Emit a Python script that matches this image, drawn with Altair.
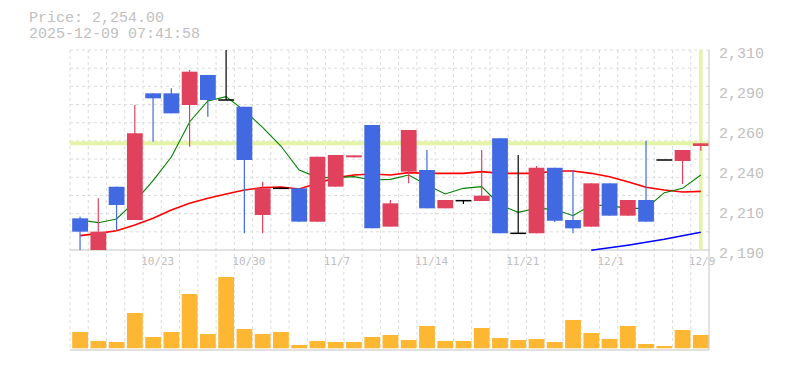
import altair as alt
import pandas as pd

# ---------------- data ----------------
dates = ["10/17", "10/20", "10/21", "10/22", "10/23", "10/24", "10/27", "10/28", "10/29", "10/30",
         "10/31", "11/4", "11/5", "11/6", "11/7", "11/10", "11/11", "11/12", "11/13", "11/14",
         "11/17", "11/18", "11/19", "11/20", "11/21", "11/25", "11/26", "11/27", "11/28", "12/1",
         "12/2", "12/3", "12/4", "12/8", "12/9"]
opens = [2209, 2190, 2228, 2208, 2284, 2284, 2277, 2295, 2280, 2276,
         2211, 2227, 2227, 2207, 2228, 2245.6, 2265, 2204, 2237, 2238,
         2215, 2219.6, 2219.4, 2257, 2200, 2200, 2239.4, 2208, 2204, 2230,
         2210.6, 2220, 2244, 2243.4, 2252.4]
highs = [2210, 2221, 2228, 2277, 2284, 2287, 2298, 2295, 2310, 2276,
         2231, 2227, 2227, 2246, 2247, 2246.8, 2265, 2220, 2262, 2250,
         2220, 2219.6, 2250, 2257, 2247, 2240.4, 2239.4, 2238, 2230, 2230,
         2220, 2255.6, 2244, 2250, 2254]
lows = [2190, 2190, 2202, 2208, 2255, 2272, 2252, 2270, 2280, 2200,
        2200, 2227, 2207, 2207, 2228, 2245.6, 2203, 2204, 2230, 2215,
        2215, 2217.6, 2219.4, 2200, 2200, 2200, 2206.8, 2200, 2204, 2210.6,
        2210.6, 2207, 2244, 2229.6, 2249.6]
closes = [2201, 2201, 2217, 2260, 2281, 2272, 2297, 2280, 2280, 2244,
          2227, 2227, 2207, 2246, 2247, 2246.8, 2203, 2218, 2262, 2215,
          2220, 2219.6, 2222.6, 2200, 2200, 2239.4, 2207.5, 2203, 2230, 2210.6,
          2220, 2207, 2244, 2250, 2254]
ma_short = [2208, 2206.4, 2208.6, 2219, 2231.6, 2245.8, 2266.8, 2279.4, 2282, 2273.6,
            2263.6, 2252.4, 2238, 2233.6, 2233.4, 2234, 2232, 2232.4, 2235, 2229,
            2223.6, 2227, 2228, 2217, 2212.6, 2215, 2214.4, 2210.6, 2217, 2216.6,
            2215, 2215, 2224.4, 2227, 2235]
ma_mid = [2198.6, 2200, 2201.6, 2205, 2209, 2214, 2218, 2221, 2223.6, 2226,
          2227.4, 2227.8, 2226.6, 2230, 2233.4, 2235, 2235.6, 2235, 2236.4, 2236,
          2236, 2236, 2237, 2236, 2236, 2236, 2237.4, 2237.4, 2236, 2234,
          2231, 2227.6, 2226, 2224.8, 2225.2]
ma_long = [None] * 28 + [2189.8, 2191.4, 2192.9, 2194.6, 2196.4, 2198.5, 2200.6]
volumes = [4900, 2200, 1900, 10600, 3400, 4900, 16300, 4300, 21400, 5800,
           4300, 4900, 1000, 2200, 1900, 1900, 3400, 4000, 2500, 6700,
           2200, 2200, 6100, 3100, 2500, 2800, 1900, 8500, 4600, 2800,
           6700, 1300, 700, 5500, 4000]
label_dates = ["10/23", "10/30", "11/7", "11/14", "11/21", "12/1", "12/9"]
price_ticks = [2310, 2286, 2262, 2238, 2214, 2190]
last_price = 2254.0
header_price = "Price: 2,254.00"
header_time = "2025-12-09 07:41:58"

df = pd.DataFrame({
    "i": list(range(len(dates))), "date": dates,
    "open": opens, "high": highs, "low": lows, "close": closes,
    "ma_s": ma_short, "ma_m": ma_mid, "ma_l": ma_long, "vol": volumes,
})

# ---------------- scales / styles ----------------
PMIN, PMAX = 2190, 2310
N = len(dates)
xs = alt.Scale(domain=[0, N], nice=False, zero=False)
ys = alt.Scale(domain=[PMIN, PMAX], range=[200, 0], nice=False, zero=False)
vs = alt.Scale(domain=[0, 30000], range=[298.3, 198.3], nice=False, zero=True)
GRID = "#dcdcdc"
BORDER = "#c4c4c4"
LABEL = "#c0c0c0"
color_scale = alt.Scale(domain=["up", "down", "flat"], range=["#e0425e", "#4169e1", "#000000"])

base = alt.Chart(df).transform_calculate(
    c="datum.i + 0.55", l="datum.i + 0.12", r="datum.i + 0.985", zero="0",
    dir="datum.close > datum.open ? 'up' : (datum.close < datum.open ? 'down' : 'flat')",
)
xc = alt.X("c:Q", scale=xs, axis=None)
dummy = pd.DataFrame({"a": [0]})

# ---------------- frame / grid ----------------
vgrid = alt.Chart(pd.DataFrame({"gx": list(range(N))})).mark_rule(
    color=GRID, strokeDash=[3, 3], strokeWidth=1
).encode(x=alt.X("gx:Q", scale=xs, axis=None))
bottom_line = alt.Chart(dummy).mark_rule(color=BORDER, strokeWidth=1).encode(
    y=alt.value(300), x=alt.value(0), x2=alt.value(639))
right_border = alt.Chart(dummy).mark_rule(color=BORDER, strokeWidth=1).encode(
    x=alt.value(639), y=alt.value(0), y2=alt.value(300))

# ---------------- price panel ----------------
grid_df = pd.DataFrame({"g": [PMIN + k * (PMAX - PMIN) / 11 for k in range(1, 12)]})
hgrid = alt.Chart(grid_df).mark_rule(color=GRID, strokeDash=[3, 3], strokeWidth=1).encode(
    y=alt.Y("g:Q", scale=ys, axis=None), x=alt.value(0), x2=alt.value(639)
)
price_bottom = alt.Chart(pd.DataFrame({"b": [PMIN]})).mark_rule(color=BORDER, strokeWidth=1).encode(
    y=alt.Y("b:Q", scale=ys, axis=None), x=alt.value(0), x2=alt.value(639)
)
price_labels = alt.Chart(pd.DataFrame({"v": price_ticks})).transform_calculate(
    t="format(round(datum.v / 10) * 10, ',')"
).mark_text(align="left", baseline="middle", dy=3, font="Liberation Mono", fontSize=15, color=LABEL).encode(
    y=alt.Y("v:Q", scale=ys, axis=None), x=alt.value(649), text="t:N"
)
last_df = pd.DataFrame({"p": [last_price], "x": [N - 1 + 0.55], "lo": [PMIN], "hi": [PMAX]})
last_h = alt.Chart(last_df).mark_rule(color="#e4f4a6", strokeWidth=4).encode(
    y=alt.Y("p:Q", scale=ys, axis=None), x=alt.value(0), x2=alt.value(639)
)
last_v = alt.Chart(last_df).mark_rule(color="#e4f4a6", strokeWidth=3.5).encode(
    x=alt.X("x:Q", scale=xs, axis=None),
    y=alt.Y("hi:Q", scale=ys, axis=None), y2="lo:Q"
)
line_mid = base.mark_line(color="#ff0000", strokeWidth=1.6).encode(
    x=xc, y=alt.Y("ma_m:Q", scale=ys, axis=None))
line_short = base.mark_line(color="#008000", strokeWidth=1.1).encode(
    x=xc, y=alt.Y("ma_s:Q", scale=ys, axis=None))
line_long = base.mark_line(color="#0000ff", strokeWidth=1.5).encode(
    x=xc, y=alt.Y("ma_l:Q", scale=ys, axis=None))
wicks = base.mark_rule(strokeWidth=1.2).encode(
    x=xc, y=alt.Y("low:Q", scale=ys, axis=None), y2="high:Q",
    color=alt.Color("dir:N", scale=color_scale, legend=None))
bodies = base.transform_filter("datum.open != datum.close").mark_bar().encode(
    x=alt.X("l:Q", scale=xs, axis=None), x2="r:Q",
    y=alt.Y("open:Q", scale=ys, axis=None), y2="close:Q",
    color=alt.Color("dir:N", scale=color_scale, legend=None))
dojis = base.transform_filter("datum.open == datum.close").mark_rule(strokeWidth=1.5, color="#000000").encode(
    x=alt.X("l:Q", scale=xs, axis=None), x2="r:Q",
    y=alt.Y("close:Q", scale=ys, axis=None))

price = alt.layer(hgrid, price_bottom, last_h, last_v, line_mid, line_short, line_long,
                  wicks, bodies, dojis, price_labels)

# ---------------- volume panel ----------------
volume = base.mark_bar(color="#fdb733").encode(
    x=alt.X("l:Q", scale=xs, axis=None), x2="r:Q",
    y=alt.Y("vol:Q", scale=vs, axis=None), y2="zero:Q")

# ---------------- texts ----------------
date_labels = base.transform_filter(alt.FieldOneOfPredicate(field="date", oneOf=label_dates)).mark_text(
    align="left", baseline="middle", dx=-12, font="DejaVu Sans Mono", fontSize=11, color=LABEL
).encode(x=xc, text="date:N", y=alt.value(212))

head1 = alt.Chart(dummy).mark_text(
    text=header_price, align="left", baseline="alphabetic", font="Liberation Mono",
    fontSize=15, color=LABEL).encode(x=alt.value(-41), y=alt.value(-27.8))
head2 = alt.Chart(dummy).mark_text(
    text=header_time, align="left", baseline="alphabetic", font="Liberation Mono",
    fontSize=15, color=LABEL).encode(x=alt.value(-41), y=alt.value(-12.5))

chart = alt.layer(vgrid, volume, price, date_labels, bottom_line, right_border, head1, head2).resolve_scale(
    y="independent"
).properties(
    width=639, height=300,
    autosize=alt.AutoSizeParams(type="none"),
    padding={"left": 70, "top": 50, "right": 76, "bottom": 20},
    background="white",
).configure_view(stroke=None)

chart.save("out.html", embed_options={"renderer": "svg", "actions": False})
